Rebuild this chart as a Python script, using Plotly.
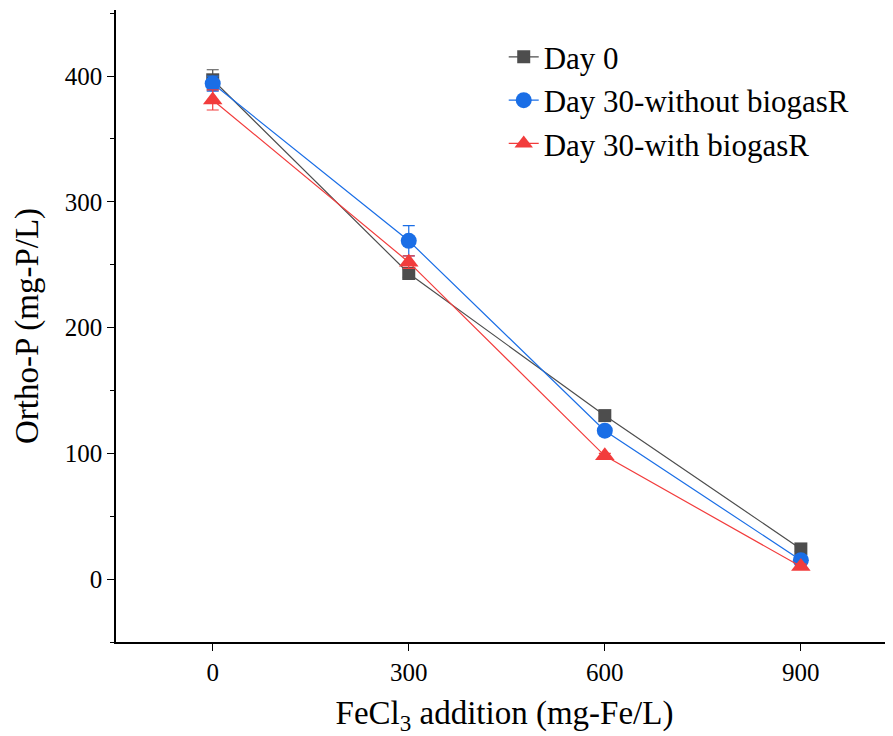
import plotly.graph_objects as go

fecl3 = [0, 300, 600, 900]
day0 = [397, 243, 130, 24]
day0_err = [8, 3, 2, 2]
day30_without = [394, 269, 118, 15]
day30_without_err = [6, 12, 2, 2]
day30_with = [381, 252, 98, 10]
day30_with_err = [8, 5, 2, 2]

names = ["Day 0", "Day 30-without biogasR", "Day 30-with biogasR"]
colors = ["#4d4d4d", "#1a6ee6", "#f23c3c"]
symbols = ["square", "circle", "triangle-up"]
sizes = [13, 16, 17]
series = [(day0, day0_err), (day30_without, day30_without_err), (day30_with, day30_with_err)]

fig = go.Figure()
for (vals, errs), name, c, s, sz in zip(series, names, colors, symbols, sizes):
    fig.add_trace(go.Scatter(
        x=fecl3, y=vals, name=name, mode="lines+markers",
        line=dict(color=c, width=1.2),
        marker=dict(symbol=s, size=sz, color=c),
        error_y=dict(type="data", array=errs, visible=True, color=c, thickness=1.2, width=6),
    ))

font_family = "Liberation Serif, Times New Roman, serif"
fig.update_layout(
    width=885, height=728,
    margin=dict(l=108, r=0, t=2, b=94),
    paper_bgcolor="white", plot_bgcolor="white",
    font=dict(family=font_family, color="black"),
    showlegend=True,
    legend=dict(x=0.499, y=0.968, xanchor="left", yanchor="top",
                font=dict(size=31, family=font_family), bgcolor="rgba(0,0,0,0)",
                tracegroupgap=0),
    xaxis=dict(range=[-148, 1041], tickvals=fecl3, ticktext=[str(v) for v in fecl3],
               showgrid=False, zeroline=False, showline=True, linecolor="black", linewidth=1.5,
               ticks="outside", ticklen=7, tickwidth=1.2, tickcolor="black",
               tickfont=dict(size=25), mirror=False,
               title=dict(text="FeCl<sub>3</sub> addition (mg-Fe/L)", font=dict(size=33), standoff=16)),
    yaxis=dict(range=[-50, 452.5], tickvals=[0, 100, 200, 300, 400],
               showgrid=False, zeroline=False, showline=True, linecolor="black", linewidth=1.5,
               ticks="outside", ticklen=7, tickwidth=1.2, tickcolor="black",
               tickfont=dict(size=25),
               minor=dict(tickvals=[-50, 50, 150, 250, 350, 450], ticks="outside", ticklen=4, tickwidth=1.2, tickcolor="black"),
               title=dict(text="Ortho-P (mg-P/L)", font=dict(size=33), standoff=16)),
)

fig.write_html("out.html")
